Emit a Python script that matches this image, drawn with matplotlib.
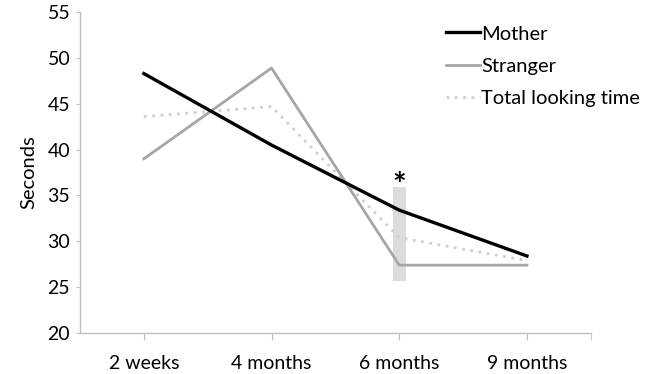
import matplotlib.pyplot as plt
from matplotlib.ticker import FixedLocator

plt.rcParams['font.family'] = ['Lato', 'DejaVu Sans']

ages = ['2 weeks', '4 months', '6 months', '9 months']
mother = [48.3, 40.5, 33.4, 28.4]
stranger = [39.0, 48.9, 27.4, 27.4]
total = [43.6, 44.7, 30.4, 27.9]

# shaded range marking the significant difference at 6 months
sig_idx = 2
sig_low, sig_high = 25.7, 35.9
sig_star_y = 36.0

x = list(range(len(ages)))

fig = plt.figure(figsize=(6.45, 3.74), dpi=100)
ax = fig.add_axes([0.124, 0.1096, 0.792, 0.858])

ax.bar(sig_idx, sig_high - sig_low, bottom=sig_low, width=0.1,
       color='#dcdcdc', zorder=1)
ax.text(sig_idx, sig_star_y, '*', ha='center', va='center',
        fontsize=23, fontweight='bold', zorder=5)

ax.plot(x, mother, color='black', lw=2.4, label='Mother', zorder=4)
ax.plot(x, stranger, color='#a6a6a6', lw=2.0, label='Stranger', zorder=3)
ax.plot(x, total, color='#cfcfcf', lw=2.0, ls=(0, (1, 2)),
        label='Total looking time', zorder=2)

ax.set_xlim(-0.5, 3.5)
ax.set_ylim(20, 55)
ax.set_yticks(range(20, 56, 5))
ax.set_xticks(x)
ax.set_xticklabels(ages)
ax.xaxis.set_minor_locator(FixedLocator([3.5]))

for side in ['top', 'right']:
    ax.spines[side].set_visible(False)
for side in ['left', 'bottom']:
    ax.spines[side].set_color('#bfbfbf')
    ax.spines[side].set_linewidth(1.0)

ax.tick_params(axis='x', which='both', length=5, color='#bfbfbf',
               labelsize=14, pad=11)
ax.tick_params(axis='y', length=3, color='#bfbfbf', labelsize=14, pad=4)
ax.set_ylabel('Seconds', fontsize=14.5, labelpad=7)

ax.legend(loc='upper right', bbox_to_anchor=(1.132, 1.015), frameon=False,
          fontsize=14.5, handlelength=1.65, handletextpad=0.08,
          labelspacing=0.76)

fig.savefig('out.png', dpi=100)
